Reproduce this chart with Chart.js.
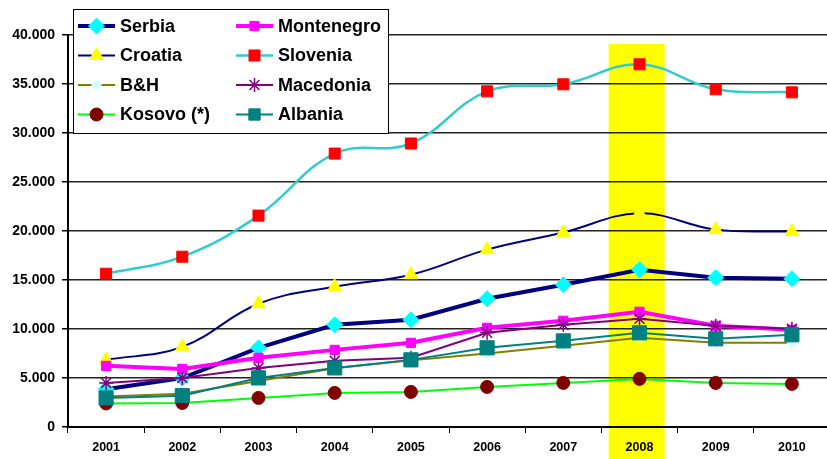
<!DOCTYPE html>
<html>
<head>
<meta charset="utf-8">
<script src="https://cdn.jsdelivr.net/npm/chart.js@4/dist/chart.umd.min.js"></script>
<style>
  html, body { margin: 0; padding: 0; background: #fff; overflow: hidden; }
</style>
</head>
<body>
<canvas id="gdpChart" width="830" height="459"></canvas>
<script>
// data
const years = ['2001', '2002', '2003', '2004', '2005', '2006', '2007', '2008', '2009', '2010'];
const serbia     = [3850, 5000, 8080, 10430, 10940, 13090, 14520, 16050, 15230, 15130];
const croatia    = [6850, 8180, 12580, 14320, 15540, 18100, 19840, 21800, 20140, 19940];
const bih        = [3100, 3400, 4700, 6000, 6800, 7500, 8300, 9100, 8600, 8600];
const kosovo     = [2400, 2450, 2970, 3480, 3580, 4090, 4500, 4910, 4500, 4400];
const montenegro = [6240, 5930, 7060, 7870, 8590, 10120, 10840, 11760, 10330, 9920];
const slovenia   = [15640, 17380, 21570, 27900, 28930, 34250, 34970, 37010, 34460, 34150];
const macedonia  = [4500, 5010, 6030, 6750, 7060, 9610, 10430, 11040, 10330, 10020];
const albania    = [2970, 3200, 5010, 6030, 6850, 8080, 8790, 9610, 9000, 9410];
const highlightYear = '2008';
const yTicks = [0, 5000, 10000, 15000, 20000, 25000, 30000, 35000, 40000];

const FONT = '"Liberation Sans", Arial, sans-serif';

function fmt(v) {
    return String(v).replace(/\B(?=(\d{3})+(?!\d))/g, '.');
}

function series(label, data, line, width, style, fill, radius, extra) {
    return Object.assign({
        label: label,
        data: data,
        borderColor: line,
        borderWidth: width,
        pointStyle: style,
        pointBackgroundColor: fill,
        pointBorderColor: fill,
        pointBorderWidth: 1,
        pointRadius: radius,
        pointHoverRadius: radius,
        tension: 0,
        fill: false
    }, extra || {});
}

const datasets = [
    series('Serbia', serbia, '#000080', 4, 'rectRot', '#00FFFF', 8),
    series('Croatia', croatia, '#000080', 2, 'triangle', '#FFFF00', 8, { tension: 0.4 }),
    series('B&H', bih, '#808000', 2, 'rectRot', '#CCFFFF', 5),
    series('Kosovo (*)', kosovo, '#00FF00', 2, 'circle', '#800000', 6.5),
    series('Montenegro', montenegro, '#FF00FF', 4, 'rect', '#FF00FF', 6.5),
    series('Slovenia', slovenia, '#33CCCC', 2.5, 'rect', '#FF0000', 7.8, { tension: 0.4 }),
    series('Macedonia', macedonia, '#800080', 2, 'star', '#800080', 7, { pointBorderWidth: 1.5 }),
    series('Albania', albania, '#008080', 2, 'rect', '#008080', 10)
];
// later series on top, like the original
datasets.forEach((ds, i) => { ds.order = datasets.length - i; });

// yellow band behind the highlighted year
const highlight = {
    id: 'highlight',
    beforeDraw(chart) {
        const x = chart.scales.x, y = chart.scales.y;
        const idx = years.indexOf(highlightYear);
        const cx = x.getPixelForValue(idx);
        const step = x.getPixelForValue(1) - x.getPixelForValue(0);
        const left = cx - step * 0.405;
        const right = cx + step * 0.33;
        const top = y.getPixelForValue(39100);
        const ctx = chart.ctx;
        ctx.save();
        ctx.fillStyle = '#FFFF00';
        ctx.fillRect(left, top, right - left, chart.height - top);
        ctx.restore();
    }
};

// boxed two-column legend drawn over the plot
const boxLegend = {
    id: 'boxLegend',
    afterDraw(chart) {
        const ctx = chart.ctx;
        ctx.save();
        ctx.fillStyle = '#fff';
        ctx.fillRect(73.5, 9.5, 315, 124);
        ctx.strokeStyle = '#000';
        ctx.lineWidth = 1;
        ctx.strokeRect(73.5, 9.5, 315, 124);
        chart.data.datasets.forEach((ds, i) => {
            const col = Math.floor(i / 4), row = i % 4;
            const x0 = 78 + col * 158;
            const yy = 26 + row * 29.5;
            ctx.strokeStyle = ds.borderColor;
            ctx.lineWidth = ds.borderWidth;
            ctx.beginPath();
            ctx.moveTo(x0, yy);
            ctx.lineTo(x0 + 37, yy);
            ctx.stroke();
            ctx.fillStyle = ds.pointBackgroundColor;
            ctx.strokeStyle = ds.pointBorderColor;
            ctx.lineWidth = ds.pointBorderWidth;
            Chart.helpers.drawPoint(ctx, {
                pointStyle: ds.pointStyle,
                radius: Math.min(ds.pointRadius, 8),
                rotation: 0,
                borderWidth: ds.pointBorderWidth
            }, x0 + 18.5, yy);
            ctx.fillStyle = '#000';
            ctx.font = 'bold 18px ' + FONT;
            ctx.textBaseline = 'middle';
            ctx.textAlign = 'left';
            ctx.fillText(ds.label, x0 + 42, yy + 1);
        });
        ctx.restore();
    }
};

new Chart(document.getElementById('gdpChart'), {
    type: 'line',
    data: { labels: years, datasets: datasets },
    plugins: [highlight, boxLegend],
    options: {
        responsive: false,
        animation: false,
        events: [],
        layout: { autoPadding: false, padding: { top: 35, right: 0, left: 0, bottom: 0 } },
        plugins: {
            legend: { display: false },
            tooltip: { enabled: false }
        },
        scales: {
            x: {
                offset: true,
                grid: {
                    offset: true,
                    drawOnChartArea: false,
                    drawTicks: true,
                    tickLength: 6,
                    tickColor: '#000',
                    tickWidth: 1
                },
                border: { display: true, color: '#000', width: 2 },
                ticks: {
                    color: '#000',
                    font: { family: FONT, size: 12.5, weight: 'bold' },
                    padding: 7,
                    maxRotation: 0
                },
                afterFit(scale) {
                    scale.height = 32;
                    scale.paddingLeft = 0;
                    scale.paddingRight = 0;
                }
            },
            y: {
                min: 0,
                max: 40000,
                afterBuildTicks(scale) { scale.ticks = yTicks.map(v => ({ value: v })); },
                grid: {
                    color: '#222',
                    lineWidth: 1.5,
                    drawTicks: true,
                    tickLength: 6,
                    tickColor: '#000'
                },
                border: { display: true, color: '#000', width: 2 },
                ticks: {
                    color: '#000',
                    font: { family: FONT, size: 14, weight: 'bold' },
                    padding: 7,
                    callback: v => fmt(v)
                },
                afterFit(scale) { scale.width = 68; }
            }
        }
    }
});
</script>
</body>
</html>
